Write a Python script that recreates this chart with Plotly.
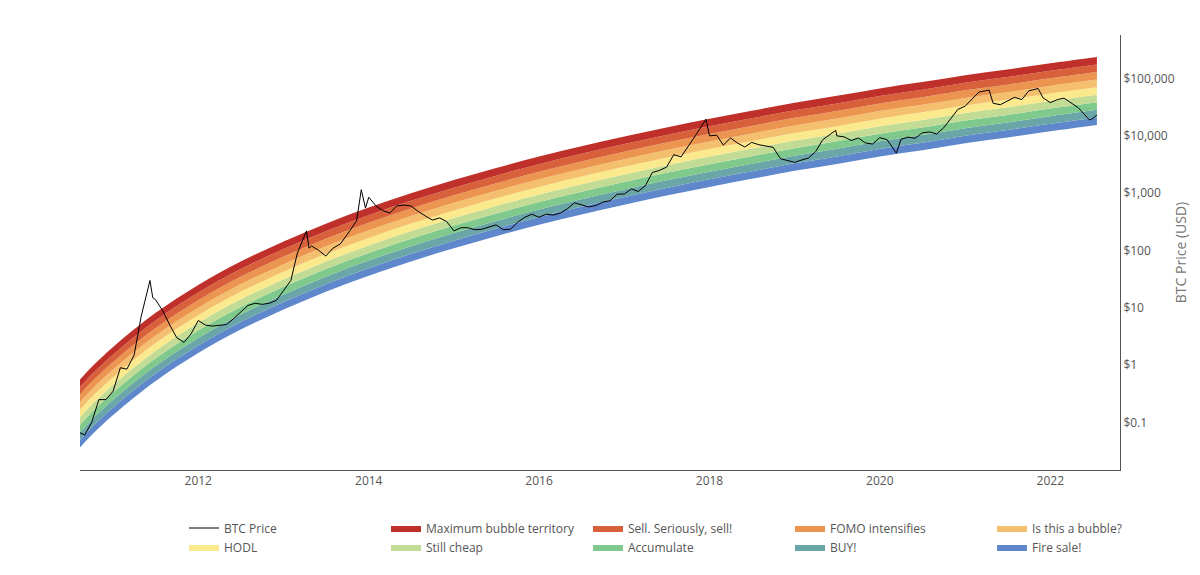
# Bitcoin rainbow chart rebuilt with plotly graph_objects

import plotly.graph_objects as go
import numpy as np
import pandas as pd

# === Band floor (log10 USD of the lower edge of "Fire sale")
band_dates = ["2010-08-01", "2010-10-01", "2011-01-01", "2011-07-01", "2012-01-01", "2012-07-01",
              "2013-01-01", "2013-07-01", "2014-01-01", "2014-07-01", "2015-01-01", "2015-07-01",
              "2016-01-01", "2016-07-01", "2017-01-01", "2017-07-01", "2018-01-01", "2018-07-01",
              "2019-01-01", "2019-07-01", "2020-01-01", "2020-07-01", "2021-01-01", "2021-07-01",
              "2022-01-01", "2022-07-20"]
band_floor_log = [-1.49, -1.22, -0.87, -0.28, 0.21, 0.62, 0.97, 1.28, 1.56, 1.81, 2.04, 2.25,
                  2.45, 2.63, 2.80, 2.96, 3.11, 3.25, 3.39, 3.51, 3.64, 3.75, 3.87, 3.97,
                  4.08, 4.19]

# Bands from bottom to top, each about 0.132 decades thick
band_names = ["Fire sale!", "BUY!", "Accumulate", "Still cheap", "HODL",
              "Is this a bubble?", "FOMO intensifies", "Sell. Seriously, sell!", "Maximum bubble territory"]
band_colors = ["#5f87cc", "#6aa5a7", "#7fc98d", "#c3dc95", "#fbe98e",
               "#f4bf6e", "#ec9550", "#d8613b", "#c0302b"]
band_step = 0.132

# === BTC price
btc_dates = ["2010-08-01", "2010-09-01", "2010-10-01", "2010-11-01", "2010-12-01", "2011-01-01",
             "2011-02-01", "2011-03-01", "2011-04-01", "2011-05-01", "2011-06-08", "2011-06-20",
             "2011-07-01", "2011-08-01", "2011-09-01", "2011-10-01", "2011-11-01", "2011-12-01",
             "2012-01-01", "2012-02-01", "2012-03-01", "2012-04-01", "2012-05-01", "2012-06-01",
             "2012-07-01", "2012-08-01", "2012-09-01", "2012-10-01", "2012-11-01", "2012-12-01",
             "2013-01-01", "2013-02-01", "2013-03-01", "2013-04-09", "2013-04-20", "2013-05-01",
             "2013-06-01", "2013-07-01", "2013-08-01", "2013-09-01", "2013-10-01", "2013-11-10",
             "2013-11-30", "2013-12-18", "2014-01-01", "2014-02-01", "2014-03-01", "2014-04-01",
             "2014-05-01", "2014-06-01", "2014-07-01", "2014-08-01", "2014-09-01", "2014-10-01",
             "2014-11-01", "2014-12-01", "2015-01-01", "2015-02-01", "2015-03-01", "2015-04-01",
             "2015-05-01", "2015-06-01", "2015-07-01", "2015-08-01", "2015-09-01", "2015-10-01",
             "2015-11-01", "2015-12-01", "2016-01-01", "2016-02-01", "2016-03-01", "2016-04-01",
             "2016-05-01", "2016-06-01", "2016-07-01", "2016-08-01", "2016-09-01", "2016-10-01",
             "2016-11-01", "2016-12-01", "2017-01-01", "2017-02-01", "2017-03-01", "2017-04-01",
             "2017-05-01", "2017-06-01", "2017-07-01", "2017-08-01", "2017-09-01", "2017-10-01",
             "2017-11-01", "2017-12-17", "2018-01-01", "2018-02-01", "2018-03-01", "2018-04-01",
             "2018-05-01", "2018-06-01", "2018-07-01", "2018-08-01", "2018-09-01", "2018-10-01",
             "2018-11-01", "2018-12-01", "2019-01-01", "2019-02-01", "2019-03-01", "2019-04-01",
             "2019-05-01", "2019-06-26", "2019-07-01", "2019-08-01", "2019-09-01", "2019-10-01",
             "2019-11-01", "2019-12-01", "2020-01-01", "2020-02-01", "2020-03-12", "2020-04-01",
             "2020-05-01", "2020-06-01", "2020-07-01", "2020-08-01", "2020-09-01", "2020-10-01",
             "2020-11-01", "2020-12-01", "2021-01-01", "2021-02-01", "2021-03-01", "2021-04-14",
             "2021-05-01", "2021-06-01", "2021-07-01", "2021-08-01", "2021-09-01", "2021-10-01",
             "2021-11-10", "2021-12-01", "2022-01-01", "2022-02-01", "2022-03-01", "2022-04-01",
             "2022-05-01", "2022-06-18", "2022-07-01", "2022-07-20"]
btc_price = [0.07, 0.06, 0.1, 0.25, 0.25, 0.35, 0.9, 0.85, 1.5, 7, 30, 15,
             14, 9, 5, 3, 2.5, 3.5, 6, 5, 4.8, 5, 5.1, 6.5,
             8.5, 11, 12, 11.5, 12, 13.5, 20, 30, 90, 220, 110, 120,
             100, 80, 110, 130, 190, 330, 1150, 550, 850, 600, 500, 450,
             600, 620, 600, 480, 400, 340, 370, 320, 220, 250, 250, 230,
             235, 260, 280, 230, 235, 310, 380, 430, 380, 430, 415, 450,
             530, 680, 630, 575, 610, 700, 740, 960, 970, 1190, 1070, 1350,
             2300, 2500, 2850, 4700, 4300, 6400, 10000, 19500, 10000, 10300, 6900, 9200,
             7500, 6400, 7700, 7000, 6600, 6300, 4000, 3700, 3450, 3800, 4100, 5300,
             8500, 12500, 10000, 9600, 8300, 9200, 7500, 7200, 9300, 8600, 5000, 8700,
             9500, 9100, 11300, 11700, 10800, 13800, 19700, 29000, 33000, 45000, 58000, 63000,
             37000, 35000, 41000, 47000, 43000, 61000, 67000, 46000, 38000, 43000, 45500, 38000,
             31000, 19000, 20000, 23000]

tick_vals = [0.1, 1, 10, 100, 1000, 10000, 100000]
tick_text = ["$0.1", "$1", "$10", "$100", "$1,000", "$10,000", "$100,000"]

x_band = pd.to_datetime(band_dates)
floor = np.array(band_floor_log)

fig = go.Figure()

# invisible floor line for the first fill
fig.add_trace(go.Scatter(x=x_band, y=10 ** floor, mode="lines", line=dict(width=0, shape="spline"),
                         showlegend=False, hoverinfo="skip"))
for i, (name, color) in enumerate(zip(band_names, band_colors)):
    fig.add_trace(go.Scatter(
        x=x_band, y=10 ** (floor + band_step * (i + 1)), mode="lines", name=name,
        line=dict(width=0, color=color, shape="spline"), fill="tonexty", fillcolor=color,
        legendrank=100 - i,
    ))

fig.add_trace(go.Scatter(x=pd.to_datetime(btc_dates), y=btc_price, mode="lines", name="BTC Price",
                         line=dict(color="black", width=1), legendrank=1))

fig.update_layout(
    width=1200, height=575, plot_bgcolor="white", paper_bgcolor="white",
    margin=dict(l=72, r=88, t=27, b=113, autoexpand=False),
    font=dict(family="Open Sans, Arial, sans-serif", size=12, color="#555"),
    legend=dict(orientation="h", x=0.1, xanchor="left", y=-0.1, yanchor="top",
                entrywidth=157, entrywidthmode="pixels", traceorder="normal",
                font=dict(size=12, color="#555")),
)
fig.update_xaxes(range=["2010-08-12", "2022-10-27"], showgrid=False, showline=True,
                 linecolor="#555", ticks="", tickfont=dict(color="#555"), dtick="M24",
                 tick0="2012-01-01", tickformat="%Y", automargin=False)
fig.update_yaxes(type="log", side="right", range=[-1.83, 5.76], showgrid=False, showline=True,
                 linecolor="#555", tickvals=tick_vals, ticktext=tick_text, automargin=False,
                 title=dict(text="BTC Price (USD)", font=dict(size=14, color="#777"), standoff=2))

fig.write_html("out.html")
